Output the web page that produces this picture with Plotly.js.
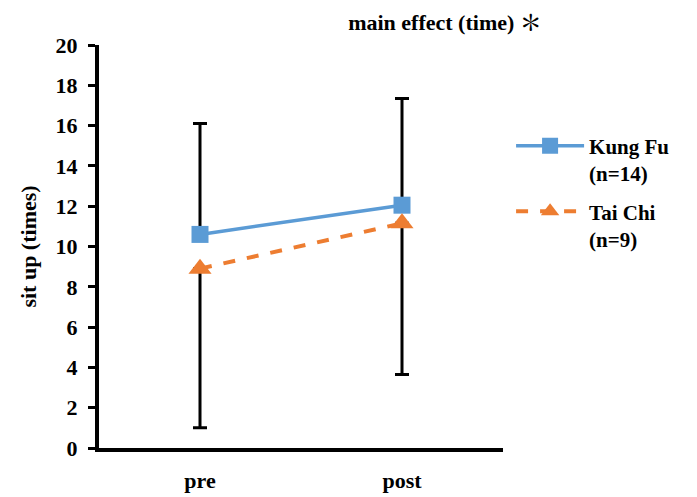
<!DOCTYPE html>
<html>
<head>
<meta charset="utf-8">
<script src="https://cdn.plot.ly/plotly-3.0.1.min.js"></script>
<style>html,body{margin:0;padding:0;background:#fff;}</style>
</head>
<body>
<div id="chart" style="width:697px;height:497px;"></div>
<script>
const categories = ["pre", "post"];
const kungFuMean = [10.6, 12.05];
const kungFuErrUp = [5.5, 5.3];
const taiChiMean = [8.9, 11.15];
const taiChiErrDown = [7.9, 7.5];
const seriesNames = ["Kung Fu<br>(n=14)", "Tai Chi<br>(n=9)"];
const yTicks = [0, 2, 4, 6, 8, 10, 12, 14, 16, 18, 20];

const FONT = "'Liberation Serif', 'Times New Roman', 'Noto Serif CJK SC', 'Noto Sans CJK SC', serif";

const traces = [
  {
    x: categories, y: kungFuMean, name: seriesNames[0], legendgroup: "a", type: "scatter", mode: "lines+markers",
    line: {color: "#5B9BD5", width: 3.5},
    marker: {symbol: "square", size: 17, color: "#5B9BD5"},
    error_y: {type: "data", symmetric: false, array: kungFuErrUp, arrayminus: [0, 0],
              color: "#000", thickness: 3, width: 7}
  },
  {
    x: categories, y: taiChiMean, name: seriesNames[1], legendgroup: "b", type: "scatter", mode: "lines+markers",
    line: {color: "#ED7D31", width: 4, dash: "dash"},
    marker: {symbol: "triangle-up", size: 20, color: "#ED7D31"},
    error_y: {type: "data", symmetric: false, array: [0, 0], arrayminus: taiChiErrDown,
              color: "#000", thickness: 3, width: 7}
  }
];

const layout = {
  width: 697, height: 497,
  margin: {l: 99, r: 194, t: 45, b: 49},
  paper_bgcolor: "#fff", plot_bgcolor: "#fff",
  font: {family: FONT, color: "#000", size: 20},
  title: {text: "main effect (time) ＊", x: 445/697, xanchor: "center", y: 1 - 22/497, yanchor: "middle",
          font: {family: FONT, size: 22, color: "#000", weight: "bold"}},
  showlegend: true,
  legend: {x: 1.02, y: 0.8, xanchor: "left", yanchor: "top", valign: "top",
           font: {family: FONT, size: 21, color: "#000", weight: "bold"},
           bgcolor: "rgba(0,0,0,0)", tracegroupgap: 8, itemwidth: 68},
  xaxis: {
    type: "category", range: [-0.5, 1.5], showgrid: false, zeroline: false,
    showline: true, linecolor: "#000", linewidth: 4, ticks: "",
    ticklabelstandoff: 10,
    tickfont: {family: FONT, size: 22, color: "#000", weight: "bold"}
  },
  yaxis: {
    range: [0, 20], tickvals: yTicks, ticktext: yTicks.map(String),
    showgrid: false, zeroline: false,
    showline: true, linecolor: "#000", linewidth: 4,
    ticks: "outside", ticklen: 7, tickwidth: 3, tickcolor: "#000",
    ticklabelstandoff: 6,
    tickfont: {family: FONT, size: 22, color: "#000", weight: "bold"},
    title: {text: "sit up (times)", standoff: 14, font: {family: FONT, size: 22, color: "#000", weight: "bold"}}
  }
};

Plotly.newPlot("chart", traces, layout, {displayModeBar: false, staticPlot: true});
</script>
</body>
</html>
